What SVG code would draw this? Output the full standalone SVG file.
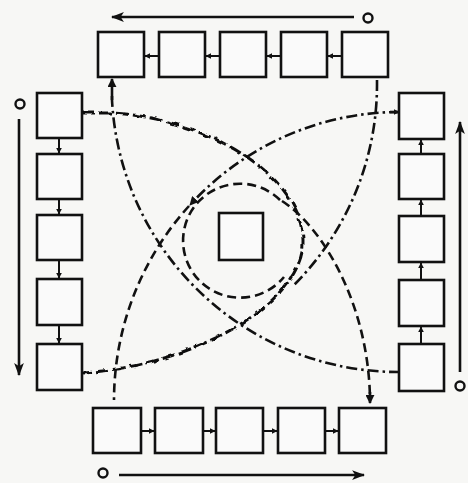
<svg xmlns="http://www.w3.org/2000/svg" width="468" height="483" viewBox="0 0 468 483">
<style>
.box{fill:#fafafa;stroke:#111;stroke-width:2.6}
.ln{fill:none;stroke:#111;stroke-width:2.6}
.thin{fill:none;stroke:#111;stroke-width:2}
.dd{stroke-dasharray:11 4 2.5 4}
.da{stroke-dasharray:9 5}
.wv{stroke-dasharray:13 4;stroke-width:3;filter:url(#wig)}
.ring{fill:none;stroke:#111;stroke-width:2.4}
</style>
<defs>
<marker id="sm" viewBox="0 0 10 10" refX="9" refY="5" markerWidth="6" markerHeight="6" markerUnits="userSpaceOnUse" orient="auto"><path d="M0,0 L10,5 L0,10 z" fill="#111"/></marker>
<marker id="big" viewBox="0 0 12 10" refX="11" refY="5" markerWidth="13" markerHeight="11" markerUnits="userSpaceOnUse" orient="auto"><path d="M0,0.5 L12,5 L0,9.5 L3,5 z" fill="#111"/></marker>
<marker id="mid" viewBox="0 0 10 10" refX="9" refY="5" markerWidth="9" markerHeight="9" markerUnits="userSpaceOnUse" orient="auto"><path d="M0,0 L10,5 L0,10 z" fill="#111"/></marker>
<filter id="wig" x="-20%" y="-20%" width="140%" height="140%">
<feTurbulence type="fractalNoise" baseFrequency="0.12" numOctaves="2" seed="7" result="t"/>
<feDisplacementMap in="SourceGraphic" in2="t" scale="4" xChannelSelector="R" yChannelSelector="G"/>
</filter>
</defs>
<rect width="468" height="483" fill="#f7f7f5"/>

<!-- top row -->
<g id="top1"><rect class="box" x="98" y="32" width="46" height="45"/></g>
<g id="top2"><rect class="box" x="159" y="32" width="46" height="45"/></g>
<g id="top3"><rect class="box" x="220" y="32" width="46" height="45"/></g>
<g id="top4"><rect class="box" x="281" y="32" width="46" height="45"/></g>
<g id="top5"><rect class="box" x="342" y="32" width="46" height="45"/></g>
<!-- left column -->
<g id="left1"><rect class="box" x="37" y="93" width="45" height="45"/></g>
<g id="left2"><rect class="box" x="37" y="154" width="45" height="45"/></g>
<g id="left3"><rect class="box" x="37" y="215" width="45" height="45"/></g>
<g id="left4"><rect class="box" x="37" y="279" width="45" height="46"/></g>
<g id="left5"><rect class="box" x="37" y="344" width="45" height="46"/></g>
<!-- right column -->
<g id="right1"><rect class="box" x="399" y="93" width="45" height="46"/></g>
<g id="right2"><rect class="box" x="399" y="154" width="45" height="45"/></g>
<g id="right3"><rect class="box" x="399" y="216" width="45" height="46"/></g>
<g id="right4"><rect class="box" x="399" y="280" width="45" height="46"/></g>
<g id="right5"><rect class="box" x="399" y="344" width="45" height="47"/></g>
<!-- bottom row -->
<g id="bot1"><rect class="box" x="93" y="408" width="48" height="45"/></g>
<g id="bot2"><rect class="box" x="155" y="408" width="48" height="45"/></g>
<g id="bot3"><rect class="box" x="216" y="408" width="47" height="45"/></g>
<g id="bot4"><rect class="box" x="278" y="408" width="47" height="45"/></g>
<g id="bot5"><rect class="box" x="339" y="408" width="47" height="45"/></g>
<!-- centre -->
<g id="centre"><rect class="box" x="219" y="213" width="44" height="47"/></g>

<g id="connectors">
<!-- top row links (leftwards) -->
<line class="thin" x1="159" y1="56" x2="145" y2="56" marker-end="url(#sm)"/>
<line class="thin" x1="220" y1="56" x2="206" y2="56" marker-end="url(#sm)"/>
<line class="thin" x1="281" y1="56" x2="267" y2="56" marker-end="url(#sm)"/>
<line class="thin" x1="342" y1="56" x2="328" y2="56" marker-end="url(#sm)"/>
<!-- left column links (down) -->
<line class="thin" x1="59" y1="138" x2="59" y2="153" marker-end="url(#sm)"/>
<line class="thin" x1="59" y1="199" x2="59" y2="214" marker-end="url(#sm)"/>
<line class="thin" x1="59" y1="260" x2="59" y2="278" marker-end="url(#sm)"/>
<line class="thin" x1="59" y1="325" x2="59" y2="343" marker-end="url(#sm)"/>
<!-- right column links (up) -->
<line class="thin" x1="421" y1="154" x2="421" y2="140" marker-end="url(#sm)"/>
<line class="thin" x1="421" y1="216" x2="421" y2="200" marker-end="url(#sm)"/>
<line class="thin" x1="421" y1="280" x2="421" y2="263" marker-end="url(#sm)"/>
<line class="thin" x1="421" y1="344" x2="421" y2="327" marker-end="url(#sm)"/>
<!-- bottom row links (right) -->
<line class="thin" x1="141" y1="431" x2="154" y2="431" marker-end="url(#sm)"/>
<line class="thin" x1="203" y1="431" x2="215" y2="431" marker-end="url(#sm)"/>
<line class="thin" x1="263" y1="431" x2="277" y2="431" marker-end="url(#sm)"/>
<line class="thin" x1="325" y1="431" x2="338" y2="431" marker-end="url(#sm)"/>

<!-- outer long arrows with start circles -->
<circle class="ring" cx="368" cy="18" r="4.5"/>
<line class="ln" x1="354" y1="17" x2="112" y2="17" marker-end="url(#big)"/>
<circle class="ring" cx="20" cy="104" r="4.5"/>
<line class="ln" x1="19" y1="119" x2="19" y2="375" marker-end="url(#big)"/>
<circle class="ring" cx="460" cy="386" r="4.5"/>
<line class="ln" x1="460" y1="372" x2="460" y2="122" marker-end="url(#big)"/>
<circle class="ring" cx="103" cy="473" r="4.5"/>
<line class="ln" x1="119" y1="475" x2="364" y2="475" marker-end="url(#big)"/>

<!-- P: dash-dot, top-left box to right-bottom box -->
<line class="ln" x1="112" y1="100" x2="112" y2="79" marker-end="url(#mid)"/>
<path class="ln dd" d="M112 96 L112 100 A287 287 0 0 0 399 372 L399 372"/>
<!-- Q: dash-dot from top-right box down, joining the wavy line -->
<path class="ln dd" d="M377 80 L377 85 A295 288 0 0 1 294 285"/>
<!-- S: dash-dot from right-top box, arrow onto circle, then dashed to bottom-left box -->
<path class="ln dd" d="M398 112 L399 112 A285 288 0 0 0 190 205" marker-end="url(#mid)"/>
<line class="ln" x1="390" y1="112" x2="399" y2="112" marker-end="url(#sm)"/>
<path class="ln da" d="M189 206 A285 288 0 0 0 114 400"/>
<!-- central dashed ring -->
<path class="ln da" d="M280 200 A57 57 0 1 0 284 277"/>
<!-- dashed from ring down to bottom-right box -->
<path class="ln da" d="M282 201 C320 225 368 300 370 398" />
<line class="ln" x1="370" y1="392" x2="370" y2="403" marker-end="url(#mid)"/>
<!-- wavy line from left-top box round to left-bottom box -->
<path class="ln wv" d="M82 113 L112 113 C200 118 300 170 303 240 C305 300 200 365 82 373"/>
</g>
</svg>
